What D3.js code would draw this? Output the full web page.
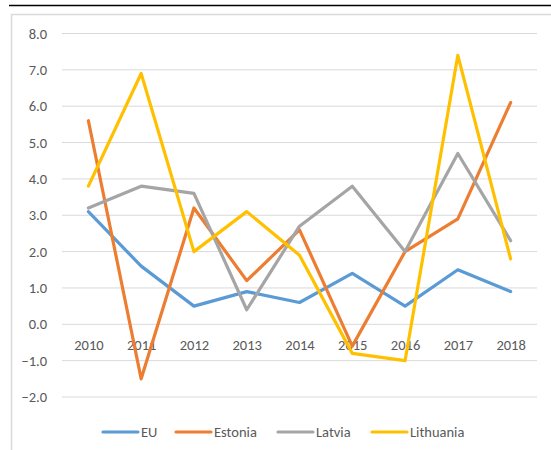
<!DOCTYPE html>
<html>
<head>
<meta charset="utf-8">
<script src="https://cdn.jsdelivr.net/npm/d3@7"></script>
<style>
  body { margin: 0; background: #fff; }
  text { font-family: Carlito, Calibri, Lato, sans-serif; fill: #595959; }
</style>
</head>
<body>
<svg id="chart"></svg>
<script>
// data
var years = ["2010", "2011", "2012", "2013", "2014", "2015", "2016", "2017", "2018"];
var eu        = [3.1, 1.6, 0.5, 0.9, 0.6, 1.4, 0.5, 1.5, 0.9];
var estonia   = [5.6, -1.5, 3.2, 1.2, 2.6, -0.6, 2.0, 2.9, 6.1];
var latvia    = [3.2, 3.8, 3.6, 0.4, 2.7, 3.8, 2.0, 4.7, 2.3];
var lithuania = [3.8, 6.9, 2.0, 3.1, 1.9, -0.8, -1.0, 7.4, 1.8];
var seriesNames = ["EU", "Estonia", "Latvia", "Lithuania"];
var yTicks = [-2, -1, 0, 1, 2, 3, 4, 5, 6, 7, 8];

var colors = ["#5B9BD5", "#ED7D31", "#A5A5A5", "#FFC000"];
var series = [eu, estonia, latvia, lithuania];
var fontSize = 14.5;

var W = 551, H = 450;
var svg = d3.select("#chart").attr("width", W).attr("height", H);

// top rule and chart frame
svg.append("line")
  .attr("x1", 9).attr("x2", W).attr("y1", 5.5).attr("y2", 5.5)
  .attr("stroke", "#000").attr("stroke-width", 1.3);
svg.append("rect")
  .attr("x", 11.5).attr("y", 14.5).attr("width", W).attr("height", H)
  .attr("fill", "#fff").attr("stroke", "#d9d9d9").attr("stroke-width", 1.5);

var plot = {left: 62, right: 537, top: 33.5, bottom: 397};

var x = d3.scalePoint().domain(years).range([plot.left, plot.right]).padding(0.5);
var y = d3.scaleLinear().domain([-2, 8]).range([plot.bottom, plot.top]);

// gridlines
svg.append("g").selectAll("line")
  .data(yTicks).join("line")
  .attr("x1", plot.left).attr("x2", plot.right)
  .attr("y1", function(d) { return y(d); })
  .attr("y2", function(d) { return y(d); })
  .attr("stroke", "#d9d9d9").attr("stroke-width", 1);

// y axis labels
var yAxis = d3.axisLeft(y).tickValues(yTicks).tickSize(0).tickPadding(0)
  .tickFormat(d3.format(".1f"));
svg.append("g")
  .attr("transform", "translate(47,0)")
  .call(yAxis)
  .call(function(g) { g.select(".domain").remove(); })
  .selectAll("text")
  .attr("font-size", fontSize).attr("fill", "#595959")
  .style("font-family", "Carlito, Calibri, Lato, sans-serif");

// x axis labels sitting at 0
var xAxis = d3.axisBottom(x).tickSize(0).tickPadding(0);
svg.append("g")
  .attr("transform", "translate(0," + (y(0) + 15) + ")")
  .call(xAxis)
  .call(function(g) { g.select(".domain").remove(); })
  .selectAll("text")
  .attr("font-size", fontSize).attr("fill", "#595959")
  .style("font-family", "Carlito, Calibri, Lato, sans-serif");

// lines
var line = d3.line()
  .x(function(d, i) { return x(years[i]); })
  .y(function(d) { return y(d); });

svg.append("g").selectAll("path")
  .data(series).join("path")
  .attr("d", line)
  .attr("fill", "none")
  .attr("stroke", function(d, i) { return colors[i]; })
  .attr("stroke-width", 3.2)
  .attr("stroke-linejoin", "round")
  .attr("stroke-linecap", "round");

// legend
var legendX = [103, 176, 278, 372];
var legend = svg.append("g").selectAll("g")
  .data(seriesNames).join("g")
  .attr("transform", function(d, i) { return "translate(" + legendX[i] + ",432)"; });
legend.append("line")
  .attr("x1", 0).attr("x2", 35).attr("y1", 0).attr("y2", 0)
  .attr("stroke", function(d, i) { return colors[i]; })
  .attr("stroke-width", 3.2).attr("stroke-linecap", "round");
legend.append("text")
  .attr("x", 38).attr("y", 5)
  .attr("font-size", fontSize)
  .text(function(d) { return d; });
</script>
</body>
</html>
